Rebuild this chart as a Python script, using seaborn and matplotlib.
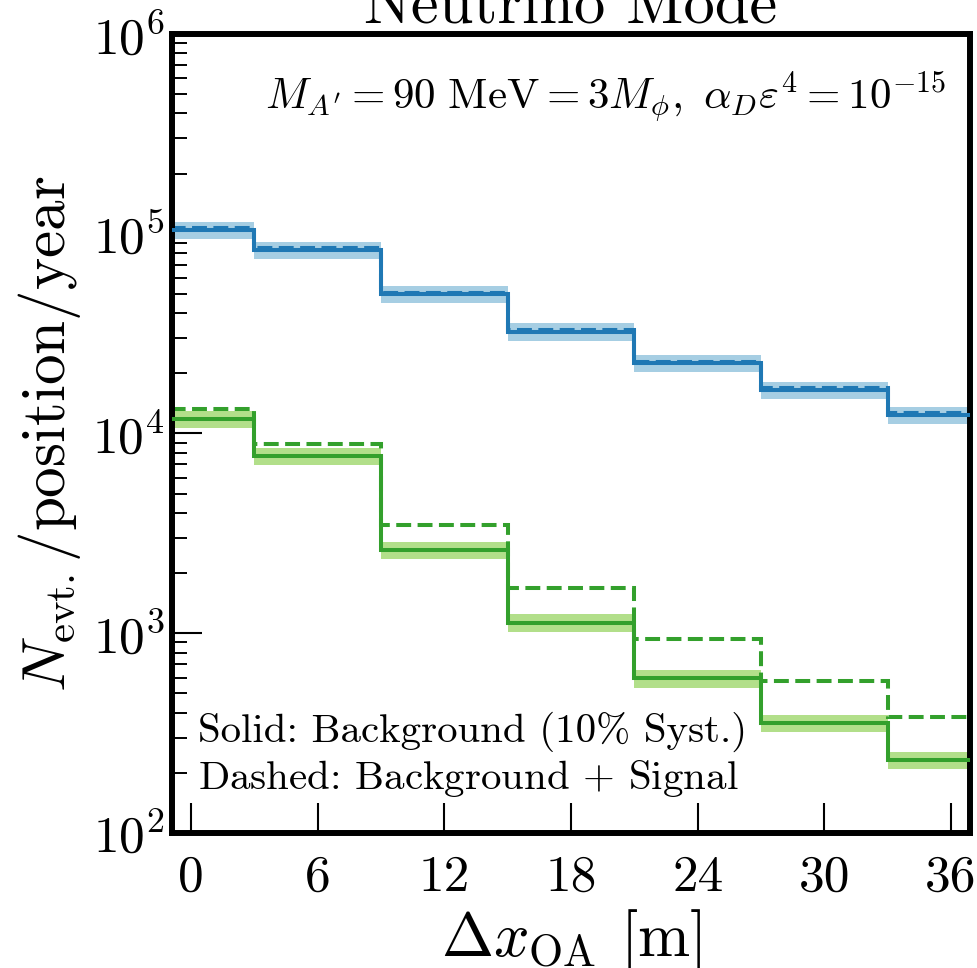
import numpy as np
import pandas as pd
import matplotlib
matplotlib.use("Agg")
import matplotlib.pyplot as plt
import seaborn as sns

# ---- data ----
positions = np.array([0, 6, 12, 18, 24, 30, 36])
blue_bkg = np.array([1.045e5, 8.3e4, 4.98e4, 3.24e4, 2.25e4, 1.65e4, 1.24e4])
blue_tot = np.array([1.07e5, 8.45e4, 5.08e4, 3.3e4, 2.29e4, 1.68e4, 1.26e4])
green_bkg = np.array([1.18e4, 7.7e3, 2.61e3, 1.13e3, 594, 354, 232])
green_tot = np.array([1.32e4, 8.9e3, 3.48e3, 1.68e3, 936, 578, 382])
syst = 0.10
xticks = [0, 6, 12, 18, 24, 30, 36]

title = "Neutrino Mode"
annot = r"$M_{A'} = 90\ \mathrm{MeV} = 3M_\phi,\ \alpha_D\varepsilon^4 = 10^{-15}$"
legend_text = "Solid: Background (10% Syst.)\nDashed: Background $+$ Signal"

# ---- style ----
sns.set_style("ticks")
plt.rcParams.update({
    "font.family": "serif",
    "font.serif": ["cmr10"],
    "mathtext.fontset": "cm",
    "axes.unicode_minus": False,
    "axes.formatter.use_mathtext": True,
    "axes.edgecolor": "black",
    "xtick.color": "black",
    "ytick.color": "black",
    "text.color": "black",
    "axes.labelcolor": "black",
})

c_blue, c_blue_l = "#1f78b4", "#a6cee3"
c_green, c_green_l = "#33a02c", "#b2df8a"

fig = plt.figure(figsize=(9.78, 9.68), dpi=100)
ax = fig.add_axes([172 / 978, 1 - 833 / 968, (970 - 172) / 978, (833 - 34) / 968])

half = 3
edges = np.append(positions - half, positions[-1] + half)

def ext(v):
    return np.append(v, v[-1])

def band(bkg, color):
    ax.fill_between(edges, ext(bkg * (1 - syst)), ext(bkg * (1 + syst)),
                    step="post", color=color, lw=0, zorder=1)

band(blue_bkg, c_blue_l)
band(green_bkg, c_green_l)

lw = 2.9
for vals, color, ls, z in [(blue_tot, c_blue, "--", 2), (blue_bkg, c_blue, "-", 3),
                           (green_tot, c_green, "--", 2), (green_bkg, c_green, "-", 3)]:
    d = pd.DataFrame({"x": edges, "y": ext(vals)})
    sns.lineplot(data=d, x="x", y="y", drawstyle="steps-post", color=color,
                 linewidth=lw, linestyle=ls, ax=ax, zorder=z,
                 solid_joinstyle="miter", dash_joinstyle="miter")

ax.set_yscale("log")
ax.set_ylim(1e2, 1e6)
ax.set_xlim(-0.9, 36.9)
ax.set_xticks(xticks)
ax.set_xticklabels([str(t) for t in xticks])

for s in ax.spines.values():
    s.set_linewidth(4.3)
    s.set_color("black")
    s.set_visible(True)
ax.tick_params(axis="both", which="major", direction="in", length=21.6, width=1.5,
               labelsize=37, top=False, right=False, colors="black")
ax.tick_params(axis="y", which="minor", direction="in", length=10.8, width=1.4,
               right=False, colors="black")
ax.tick_params(axis="y", which="major", pad=5)
ax.tick_params(axis="x", which="major", pad=16)
ax.tick_params(axis="x", which="minor", bottom=False, top=False)

ax.set_xlabel(r"$\Delta x_{\rm OA}$ [m]", fontsize=45, labelpad=4)
ax.set_ylabel(r"$N_{\rm evt.}$/position/year", fontsize=44, labelpad=7)
ax.set_title(title, fontsize=45, pad=8)

ax.text(0.97, 0.955, annot, transform=ax.transAxes, ha="right", va="top",
        fontsize=31)
ax.text(0.033, 0.152, legend_text, transform=ax.transAxes, ha="left",
        va="top", fontsize=29.5, linespacing=1.2)

fig.savefig("out.png", dpi=100)
